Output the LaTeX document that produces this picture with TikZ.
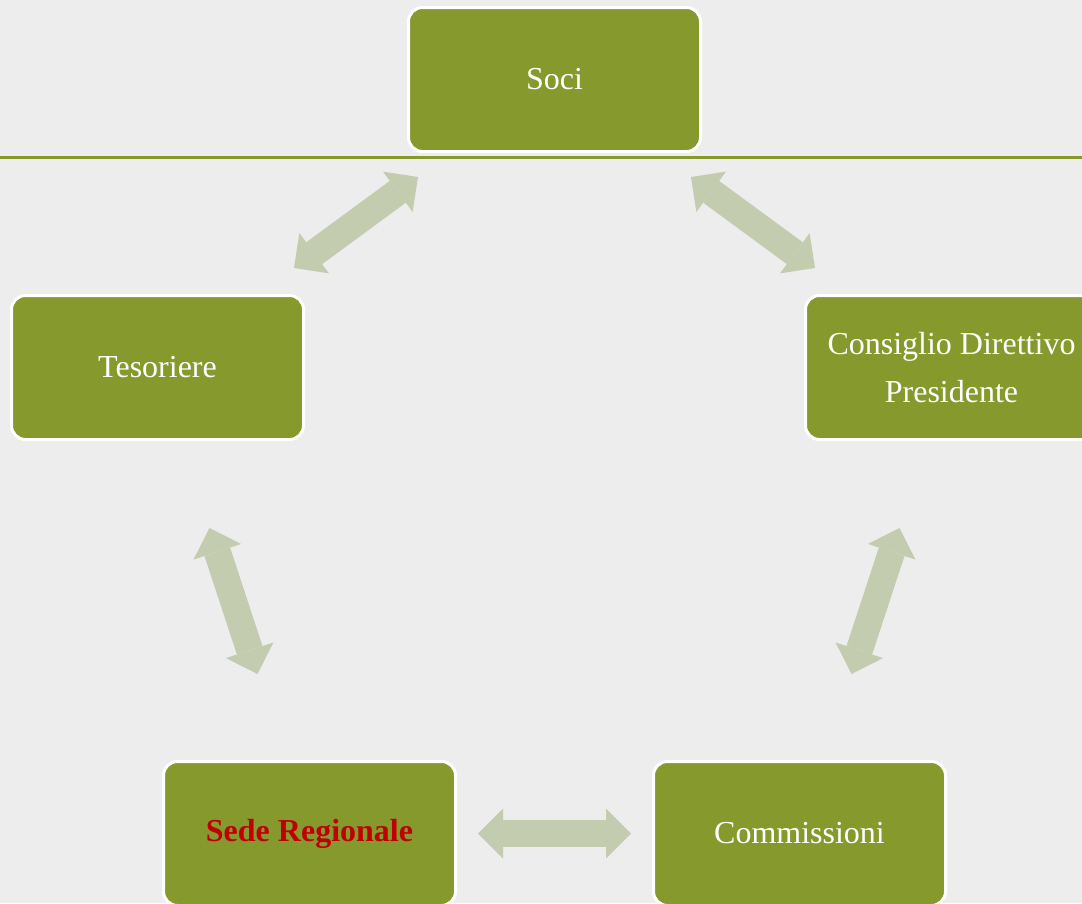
\documentclass[tikz,border=0pt]{standalone}
\usepackage{fontspec}
\setmainfont{Liberation Serif}
\usepackage{tikz}
\usetikzlibrary{arrows.meta}

\definecolor{olive}{RGB}{134,153,44}
\definecolor{pale}{RGB}{195,204,175}
\definecolor{backgr}{RGB}{237,237,237}
\definecolor{darkred}{RGB}{192,0,0}

\begin{document}
\begin{tikzpicture}[x=1pt, y=-1pt,
  box/.style = {draw=white, line width=3pt, fill=olive, rounded corners=14pt,
    minimum width=292pt, minimum height=144pt, text=white, align=center,
    font=\fontsize{32}{48}\selectfont},
  link/.style = {pale, line width=27pt,
    {Triangle[width=50pt, length=25pt, line width=0pt]}-{Triangle[width=50pt, length=25pt, line width=0pt]}}]
\useasboundingbox (0,0) rectangle (1082,903);
\clip (0,0) rectangle (1082,903);
\fill[backgr] (0,0) rectangle (1082,903);

% line under the top box
\draw[olive, line width=3pt] (0,157.5) -- (1082,157.5);

\node[box] (soci) at (554.5,79.5) {Soci};
\node[box] (tes) at (157.5,367.5) {Tesoriere};
\node[box] (cons) at (951.5,367.5) {Consiglio Direttivo\\Presidente};
\node[box, text=darkred, font=\fontsize{32}{48}\selectfont\bfseries] (sede) at (309.5,833.5) {Sede Regionale};
\node[box] (comm) at (799.5,833.5) {Commissioni};

% double arrows
\draw[link] ([shift={(11,24)}]soci.south west) -- ([shift={(-11,-26)}]tes.north east);
\draw[link] ([shift={(-11,24)}]soci.south east) -- ([shift={(11,-26)}]cons.north west);
\draw[link] ([shift={(52,87)}]tes.south) -- ([shift={(-52,-86)}]sede.north);
\draw[link] ([shift={(-52,87)}]cons.south) -- ([shift={(52,-86)}]comm.north);
\draw[link] ([shift={(21,0)}]sede.east) -- ([shift={(-21,0)}]comm.west);
\end{tikzpicture}
\end{document}
